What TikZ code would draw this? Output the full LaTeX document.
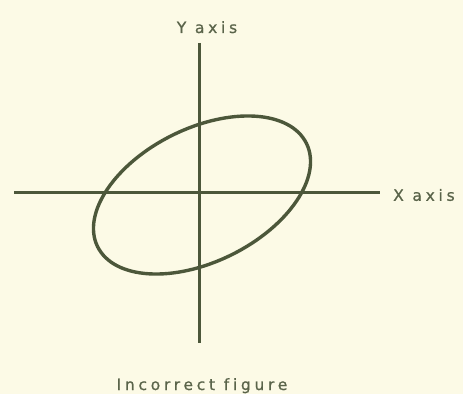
\documentclass[tikz,border=0pt]{standalone}
\usepackage{fontspec}
\setmainfont{DejaVu Sans}[LetterSpace=24, Ligatures=NoCommon, FakeBold=0.8]
\definecolor{paper}{HTML}{FCFAE6}
\definecolor{ink}{HTML}{4C573A}
\definecolor{txt}{HTML}{5A644A}
\begin{document}
\begin{tikzpicture}[x=1pt,y=1pt,
  axis/.style={draw=ink, line width=2.2pt},
  curve/.style={draw=ink, line width=3.4pt},
  lbl/.style={text=txt, font=\fontsize{15.5}{18}\selectfont, inner sep=0pt}]
\fill[paper] (0,0) rectangle (463,394);
\useasboundingbox (0,0) rectangle (463,394);
\coordinate (ytop) at (199.5,351);
\coordinate (ybot) at (199.5,51);
\coordinate (xl) at (14,201.5);
\coordinate (xr) at (380,201.5);
\coordinate (ec) at (202,199);
\draw[axis] (ytop) -- (ybot);
\draw[axis] (xl) -- (xr);
\draw[curve] (ec) ellipse [x radius=116.5, y radius=66.7, rotate=26.35];
\node[lbl, anchor=base] (ylab) at (207,361) {Y axis};
\node[lbl, anchor=west] (xlab) at (393,199) {X axis};
\node[lbl, anchor=base] (cap) at (202,4) {Incorrect figure};
\end{tikzpicture}
\end{document}
